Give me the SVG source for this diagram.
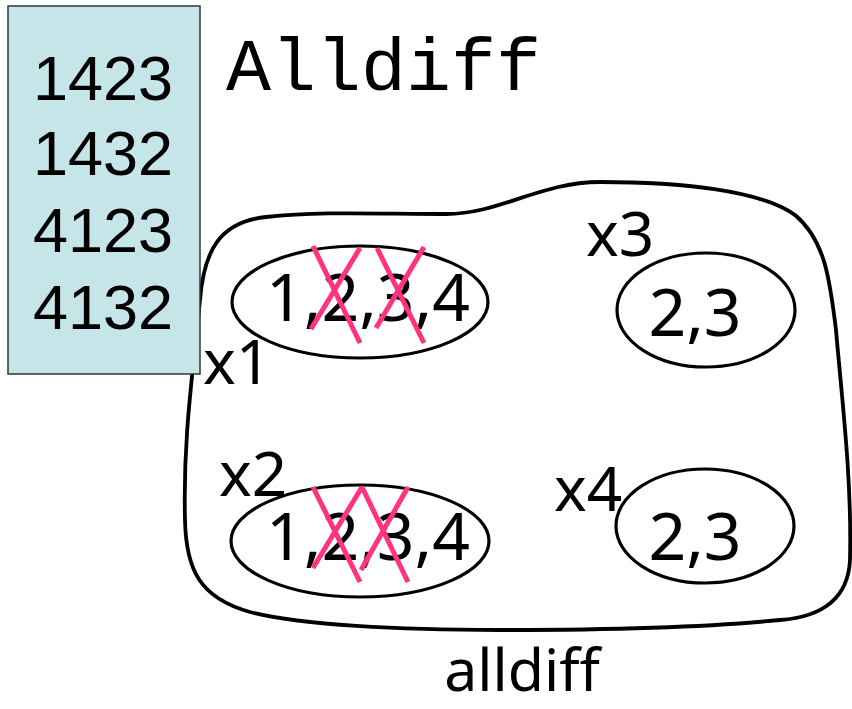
<svg xmlns="http://www.w3.org/2000/svg" width="852" height="709" viewBox="0 0 852 709">
<style>
.t{font-family:"Liberation Sans",Arial,sans-serif;fill:#000}
.n{font-family:"Noto Sans","Open Sans",sans-serif;fill:#000}
.el{fill:none;stroke:#000;stroke-width:3.2}
.x{stroke:#FF3380;stroke-width:5;stroke-linecap:butt;fill:none}
</style>
<rect width="852" height="709" fill="#fff"/>
<g id="constraint">
<path d="M 266,217 C 320,211 380,214 446,214 C 500,214 540,182 600,182 C 680,182 760,190 795,215 C 825,240 830,280 836,330 C 842,400 852,480 850,560 C 848,600 820,617 780,620 C 700,628 600,630 500,630 C 400,630 300,625 250,612 C 200,598 186,570 185,520 C 183,440 192,380 200,300 C 204,250 220,222 266,217 Z" fill="none" stroke="#000" stroke-width="3.8"/>
<text class="n" x="522" y="691" font-size="59" text-anchor="middle">alldiff</text>
</g>
<g id="x1">
<ellipse class="el" cx="360" cy="302" rx="128" ry="56"/>
<text class="n" x="368" y="321" font-size="66" text-anchor="middle">1,2,3,4</text>
<path class="x" d="M313,246 L360,343 M360,248 L311,329 M377,248 L424,343 M424,247 L376,328"/>
<text class="n" x="203" y="384" font-size="62">x1</text>
</g>
<g id="x2">
<ellipse class="el" cx="360" cy="541" rx="129" ry="56"/>
<text class="n" x="368" y="560" font-size="66" text-anchor="middle">1,2,3,4</text>
<path class="x" d="M313,487 L360,582 M362,487 L313,568 M362,487 L408,582 M408,487 L361,570"/>
<text class="n" x="219" y="496" font-size="62">x2</text>
</g>
<g id="x3">
<ellipse class="el" cx="706" cy="310" rx="89" ry="57"/>
<text class="n" x="695" y="336" font-size="66" text-anchor="middle">2,3</text>
<text class="n" x="586" y="256" font-size="62">x3</text>
</g>
<g id="x4">
<ellipse class="el" cx="705" cy="526" rx="89" ry="57"/>
<text class="n" x="695" y="560" font-size="66" text-anchor="middle">2,3</text>
<text class="n" x="554" y="511" font-size="62">x4</text>
</g>
<g id="solutions">
<rect x="8" y="6" width="192" height="368" fill="#C5E5E8" stroke="#333" stroke-width="1.5"/>
<text class="t" x="103" y="100" font-size="63" text-anchor="middle">1423</text>
<text class="t" x="103" y="175" font-size="63" text-anchor="middle">1432</text>
<text class="t" x="103" y="252" font-size="63" text-anchor="middle">4123</text>
<text class="t" x="103" y="329" font-size="63" text-anchor="middle">4132</text>
</g>
<text x="226" y="90" font-family="'Liberation Mono','Courier New',monospace" font-size="75" fill="#000">Alldiff</text>
</svg>
